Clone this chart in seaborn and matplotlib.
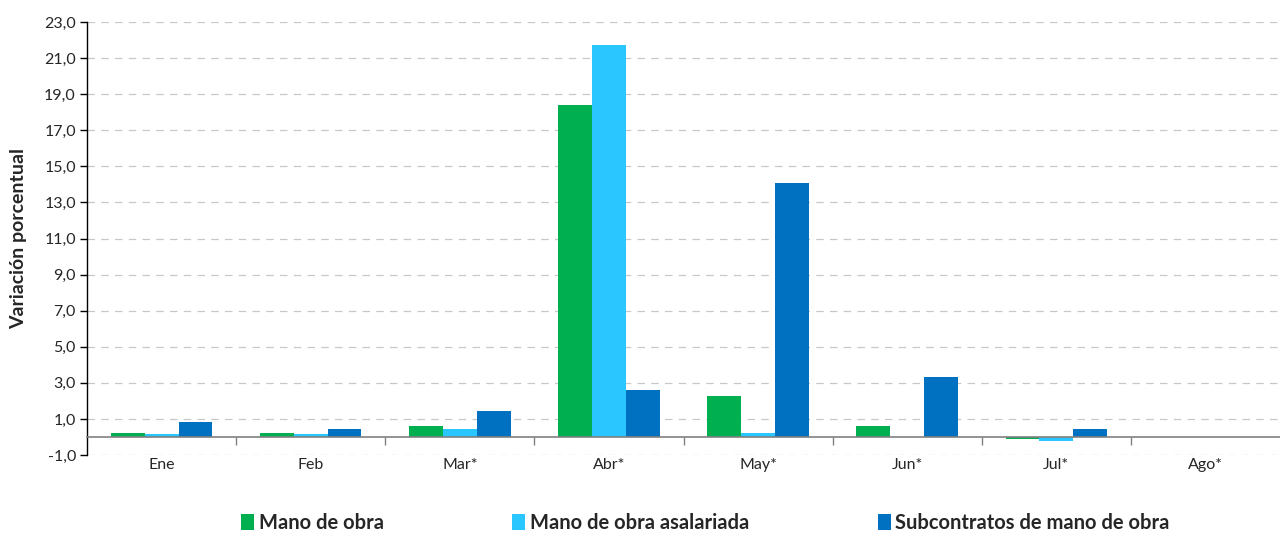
import numpy as np
import pandas as pd
import seaborn as sns
import matplotlib.pyplot as plt
from matplotlib.ticker import FuncFormatter, FixedLocator
from matplotlib.patches import Patch

# data
meses = ['Ene', 'Feb', 'Mar*', 'Abr*', 'May*', 'Jun*', 'Jul*', 'Ago*']
mano_obra = [0.24, 0.24, 0.62, 18.4, 2.3, 0.62, -0.12, np.nan]
mano_obra_asal = [0.15, 0.15, 0.44, 21.7, 0.24, 0.0, -0.22, np.nan]
subcontratos = [0.82, 0.44, 1.42, 2.6, 14.05, 3.33, 0.44, np.nan]

series = ['Mano de obra', 'Mano de obra asalariada', 'Subcontratos de mano de obra']
colores = ['#00B050', '#29C6FF', '#0070C0']


def build_df():
    rows = []
    for nombre, vals in zip(series, [mano_obra, mano_obra_asal, subcontratos]):
        for m, v in zip(meses, vals):
            rows.append({'mes': m, 'serie': nombre, 'valor': v})
    return pd.DataFrame(rows)


def main():
    df = build_df()
    sns.set_style('white')
    plt.rcParams['font.family'] = ['Lato', 'DejaVu Sans']

    fig = plt.figure(figsize=(12.8, 5.36), dpi=100)
    ax = fig.add_axes([0.068, 0.151, 0.932, 0.808])

    sns.barplot(data=df, x='mes', y='valor', hue='serie', order=meses,
                hue_order=series, palette=colores, width=0.68, gap=0,
                saturation=1, errorbar=None, ax=ax, legend=False, zorder=3,
                linewidth=0, edgecolor='none')

    ax.set_xlim(-0.5, len(meses) - 0.5)
    ax.set_ylim(-1, 23)
    ax.yaxis.set_major_locator(FixedLocator(np.arange(-1, 24, 2)))
    ax.yaxis.set_major_formatter(FuncFormatter(lambda v, p: f'{v:.1f}'.replace('.', ',')))
    ax.grid(axis='y', color='#c8c8c8', linestyle=(0, (6, 5)), linewidth=0.9, zorder=0)
    ax.set_axisbelow(True)

    for s in ['top', 'right']:
        ax.spines[s].set_visible(False)
    ax.spines['left'].set_color('black')
    ax.spines['left'].set_linewidth(1.0)
    ax.spines['bottom'].set_position(('data', 0))
    ax.spines['bottom'].set_color('#808080')
    ax.spines['bottom'].set_linewidth(1.2)
    ax.spines['bottom'].set_zorder(4)

    ax.tick_params(axis='y', direction='out', length=5, width=1, color='black',
                   labelsize=11.5, pad=3, left=True)
    ax.tick_params(axis='x', which='major', length=0, pad=15, labelsize=11.5)
    ax.xaxis.set_minor_locator(FixedLocator(np.arange(0.5, len(meses) - 0.5, 1)))
    ax.tick_params(axis='x', which='minor', direction='out', length=6, width=1,
                   color='#808080', bottom=True)

    ax.set_xlabel('')
    ax.set_ylabel('Variación porcentual', fontsize=14, fontweight='bold', labelpad=12)

    handles = [Patch(facecolor=c, edgecolor='none') for c in colores]
    fig.legend(handles, series, loc='lower center', bbox_to_anchor=(0.551, -0.028),
               ncol=3, frameon=False, handlelength=0.65, handleheight=0.9,
               handletextpad=0.2, columnspacing=6.4,
               prop={'weight': 'bold', 'size': 14.5})

    fig.savefig('out.png', dpi=100)


if __name__ == '__main__':
    main()
